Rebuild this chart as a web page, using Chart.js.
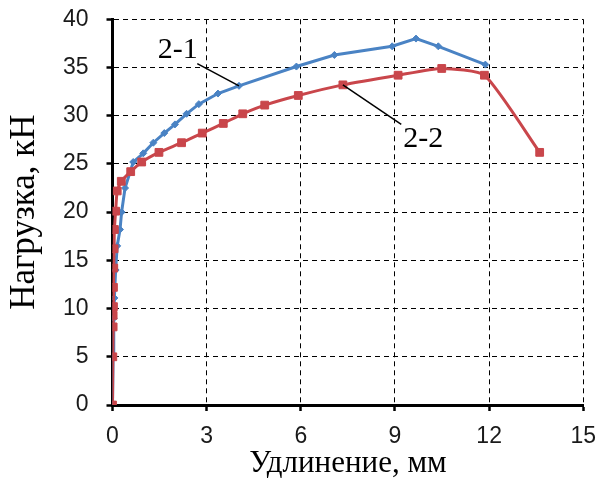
<!DOCTYPE html>
<html>
<head>
<meta charset="utf-8">
<script src="https://cdn.jsdelivr.net/npm/chart.js@4/dist/chart.umd.min.js"></script>
<style>
  html, body { margin: 0; padding: 0; background: #fff; }
  #wrap { width: 602px; height: 483px; }
</style>
</head>
<body>
<div id="wrap"><canvas id="chart" width="602" height="483"></canvas></div>
<script>
// Load vs elongation, specimens 2-1 and 2-2

const xTicks = [0, 3, 6, 9, 12, 15];
const yTicks = [0, 5, 10, 15, 20, 25, 30, 35, 40];

// specimen 2-1 (blue)
const elong21 = [0, 0.02, 0.04, 0.06, 0.10, 0.15, 0.24, 0.29, 0.40, 0.66, 0.98, 1.30, 1.65, 1.99, 2.36, 2.75, 3.36, 4.03, 5.86, 7.07, 8.91, 9.67, 10.38, 11.88];
const load21  = [0, 5.0, 9.0, 11.1, 14.0, 16.5, 18.2, 20.0, 22.5, 25.2, 26.1, 27.2, 28.2, 29.1, 30.2, 31.2, 32.3, 33.1, 35.1, 36.3, 37.2, 38.0, 37.2, 35.3];

// specimen 2-2 (red)
const elong22 = [0, 0.01, 0.02, 0.02, 0.03, 0.03, 0.04, 0.05, 0.06, 0.10, 0.15, 0.28, 0.58, 0.93, 1.48, 2.20, 2.86, 3.53, 4.15, 4.85, 5.92, 7.34, 9.10, 10.49, 11.85, 13.61];
const load22  = [0, 5.0, 8.1, 9.3, 10.2, 12.2, 14.2, 16.2, 18.2, 20.1, 22.2, 23.2, 24.2, 25.2, 26.2, 27.2, 28.2, 29.2, 30.2, 31.1, 32.1, 33.2, 34.2, 34.9, 34.2, 26.2];

// callout labels: text, leader from (x1,y1) to (x2,y2), text anchor (tx,ty) in data units
const callouts = [
    { text: '2-1', x1: 2.70, y1: 35.4, x2: 4.03, y2: 33.1, tx: 2.08, ty: 36.0 },
    { text: '2-2', x1: 7.34, y1: 33.2, x2: 9.20, y2: 29.1, tx: 9.90, ty: 26.8 }
];

const toPoints = (xs, ys) => xs.map((x, i) => ({ x: x, y: ys[i] }));

const calloutPlugin = {
    id: 'callouts',
    afterDatasetsDraw(chart) {
        const { ctx, scales: { x, y } } = chart;
        ctx.save();
        ctx.strokeStyle = '#000';
        ctx.lineWidth = 1.5;
        ctx.fillStyle = '#000';
        ctx.font = '30px "Liberation Serif", "Times New Roman", serif';
        ctx.textAlign = 'center';
        ctx.textBaseline = 'alphabetic';
        callouts.forEach(c => {
            ctx.beginPath();
            ctx.moveTo(x.getPixelForValue(c.x1), y.getPixelForValue(c.y1));
            ctx.lineTo(x.getPixelForValue(c.x2), y.getPixelForValue(c.y2));
            ctx.stroke();
            ctx.fillText(c.text, x.getPixelForValue(c.tx), y.getPixelForValue(c.ty));
        });
        ctx.restore();
    }
};

const tickFont = { family: '"Liberation Sans", Arial, sans-serif', size: 23 };

new Chart(document.getElementById('chart'), {
    type: 'scatter',
    data: {
        datasets: [
            {
                // first in list = drawn on top
                label: '2-2',
                data: toPoints(elong22, load22),
                showLine: true,
                borderColor: '#C9464B',
                backgroundColor: '#C9464B',
                borderWidth: 3,
                pointStyle: 'rect',
                pointRadius: 5.5,
                pointBorderWidth: 1,
                tension: 0.18
            },
            {
                label: '2-1',
                data: toPoints(elong21, load21),
                showLine: true,
                borderColor: '#4A83C4',
                backgroundColor: '#4A83C4',
                borderWidth: 3,
                pointStyle: 'rectRot',
                pointRadius: 3.5,
                pointBorderWidth: 1,
                tension: 0
            }
        ]
    },
    options: {
        responsive: false,
        animation: false,
        layout: { padding: { left: 0, right: 18.7, top: 19.3, bottom: 0 } },
        plugins: {
            legend: { display: false },
            tooltip: { enabled: false }
        },
        scales: {
            x: {
                type: 'linear',
                min: 0,
                max: 15,
                afterBuildTicks: s => { s.ticks = xTicks.map(v => ({ value: v })); },
                afterFit: s => { s.height = 78; s.paddingLeft = 0; s.paddingRight = 0; },
                ticks: { color: '#1a1a1a', font: tickFont, padding: 12, maxRotation: 0 },
                grid: { color: '#000', lineWidth: 1, tickLength: 6, tickWidth: 2.5, tickColor: '#000' },
                border: { color: '#000', width: 3, dash: [5, 4] },
                title: { display: true, text: 'Удлинение, мм', color: '#000',
                         font: { family: '"Liberation Serif", "Times New Roman", serif', size: 31 },
                         padding: { top: 0, bottom: 1 } }
            },
            y: {
                type: 'linear',
                min: 0,
                max: 40,
                afterBuildTicks: s => { s.ticks = yTicks.map(v => ({ value: v })); },
                afterFit: s => { s.width = 112.5; s.paddingTop = 0; s.paddingBottom = 0; },
                ticks: { color: '#1a1a1a', font: tickFont, padding: 18 },
                grid: { color: '#000', lineWidth: 1, tickLength: 6, tickWidth: 2.5, tickColor: '#000' },
                border: { color: '#000', width: 3, dash: [5, 4] },
                title: { display: true, text: 'Нагрузка, кН', color: '#000',
                         font: { family: '"Liberation Serif", "Times New Roman", serif', size: 35 },
                         padding: { top: 4, bottom: 0 } }
            }
        }
    },
    plugins: [calloutPlugin]
});
</script>
</body>
</html>
